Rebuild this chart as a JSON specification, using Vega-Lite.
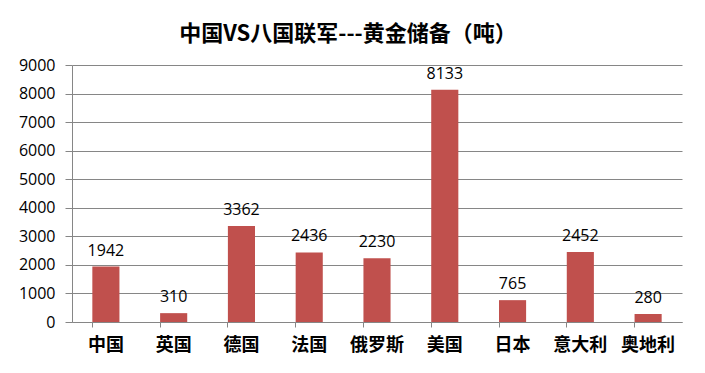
{
  "$schema": "https://vega.github.io/schema/vega-lite/v6.json",
  "width": 610,
  "height": 257,
  "autosize": {"type": "none"},
  "padding": {"left": 72, "top": 65, "right": 23, "bottom": 51},
  "background": "white",
  "title": {
    "text": "中国VS八国联军---黄金储备（吨）",
    "font": "Noto Sans CJK SC",
    "fontWeight": "bold",
    "fontSize": 22,
    "color": "#000000",
    "anchor": "middle",
    "dx": -29,
    "offset": 11
  },
  "data": {
    "values": [
      {"country": "中国", "tons": 1942},
      {"country": "英国", "tons": 310},
      {"country": "德国", "tons": 3362},
      {"country": "法国", "tons": 2436},
      {"country": "俄罗斯", "tons": 2230},
      {"country": "美国", "tons": 8133},
      {"country": "日本", "tons": 765},
      {"country": "意大利", "tons": 2452},
      {"country": "奥地利", "tons": 280}
    ]
  },
  "encoding": {
    "x": {
      "field": "country",
      "type": "nominal",
      "sort": null,
      "scale": {"paddingInner": 0.6, "paddingOuter": 0.3},
      "axis": {
        "title": null,
        "labelAngle": 0,
        "labelFont": "Noto Sans CJK SC",
        "labelFontWeight": "bold",
        "labelFontSize": 18,
        "labelColor": "#000000",
        "labelPadding": 9,
        "bandPosition": 0,
        "tickSize": 5,
        "tickColor": "#868686",
        "domainColor": "#868686",
        "grid": false
      }
    },
    "y": {
      "field": "tons",
      "type": "quantitative",
      "scale": {"domain": [0, 9000], "nice": false},
      "axis": {
        "title": null,
        "values": [0, 1000, 2000, 3000, 4000, 5000, 6000, 7000, 8000, 9000],
        "format": "d",
        "labelFont": "Open Sans",
        "labelFontSize": 16,
        "labelColor": "#000000",
        "labelPadding": 10,
        "tickSize": 7,
        "tickColor": "#868686",
        "gridColor": "#868686",
        "domainColor": "#868686",
        "grid": true
      }
    }
  },
  "layer": [
    {"mark": {"type": "bar", "color": "#C0504D"}},
    {
      "mark": {
        "type": "text",
        "baseline": "alphabetic",
        "dy": -11,
        "font": "Open Sans",
        "fontSize": 16,
        "color": "#000000"
      },
      "encoding": {"text": {"field": "tons", "type": "quantitative", "format": "d"}}
    }
  ],
  "config": {
    "view": {"stroke": null}
  }
}
